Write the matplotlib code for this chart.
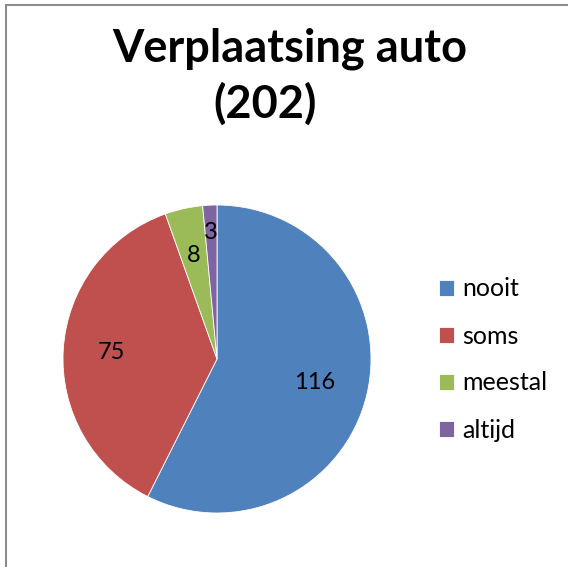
import numpy as np
import matplotlib.pyplot as plt
from matplotlib.patches import Rectangle

# data
categories = ["nooit", "soms", "meestal", "altijd"]
counts = [116, 75, 8, 3]
colors = ["#4F81BD", "#C0504D", "#9BBB59", "#8064A2"]
title_line1 = "Verplaatsing auto"
title_line2 = "(202)"

# label distance from centre (fraction of radius), Excel pushes the small one out
label_dist = [0.65, 0.69, 0.69, 0.82]

plt.rcParams['font.family'] = ['Lato', 'DejaVu Sans']

W, H = 568, 567
fig = plt.figure(figsize=(W / 100, H / 100), dpi=100)

# pie axes: centre (217, 359) px, radius 154 px
cx, cy, r = 217, 359, 154
ax = fig.add_axes([(cx - r) / W, (H - cy - r) / H, 2 * r / W, 2 * r / H])
wedges, _ = ax.pie(counts, colors=colors, startangle=90, counterclock=False,
                   radius=1, wedgeprops=dict(edgecolor='white', linewidth=0.6))
ax.set_xlim(-1, 1)
ax.set_ylim(-1, 1)
ax.set_aspect('equal')
ax.axis('off')

for w, val, d in zip(wedges, counts, label_dist):
    ang = np.deg2rad((w.theta1 + w.theta2) / 2)
    ax.text(d * np.cos(ang), d * np.sin(ang), str(val), ha='center', va='center',
            fontsize=17, color='black')

# title
fig.text(290 / W, (H - 62) / H, title_line1, ha='center', va='baseline',
         fontsize=32.5, fontweight='bold')
fig.text(265 / W, (H - 118) / H, title_line2, ha='center', va='baseline',
         fontsize=32.5, fontweight='bold')

# legend
fig.legend(wedges, categories, loc='center left',
           bbox_to_anchor=(439 / W, (H - 359.5) / H), frameon=False,
           fontsize=18, handlelength=0.6, handleheight=0.6,
           handletextpad=0.32, labelspacing=0.96, borderpad=0, borderaxespad=0)

# chart border (top and left visible)
fig.add_artist(Rectangle((6 / W, -0.1), 1.2, (H - 5) / H + 0.1,
                         transform=fig.transFigure, fill=False,
                         edgecolor='#8c8c8c', linewidth=1.5))

fig.savefig('out.png', dpi=100)
